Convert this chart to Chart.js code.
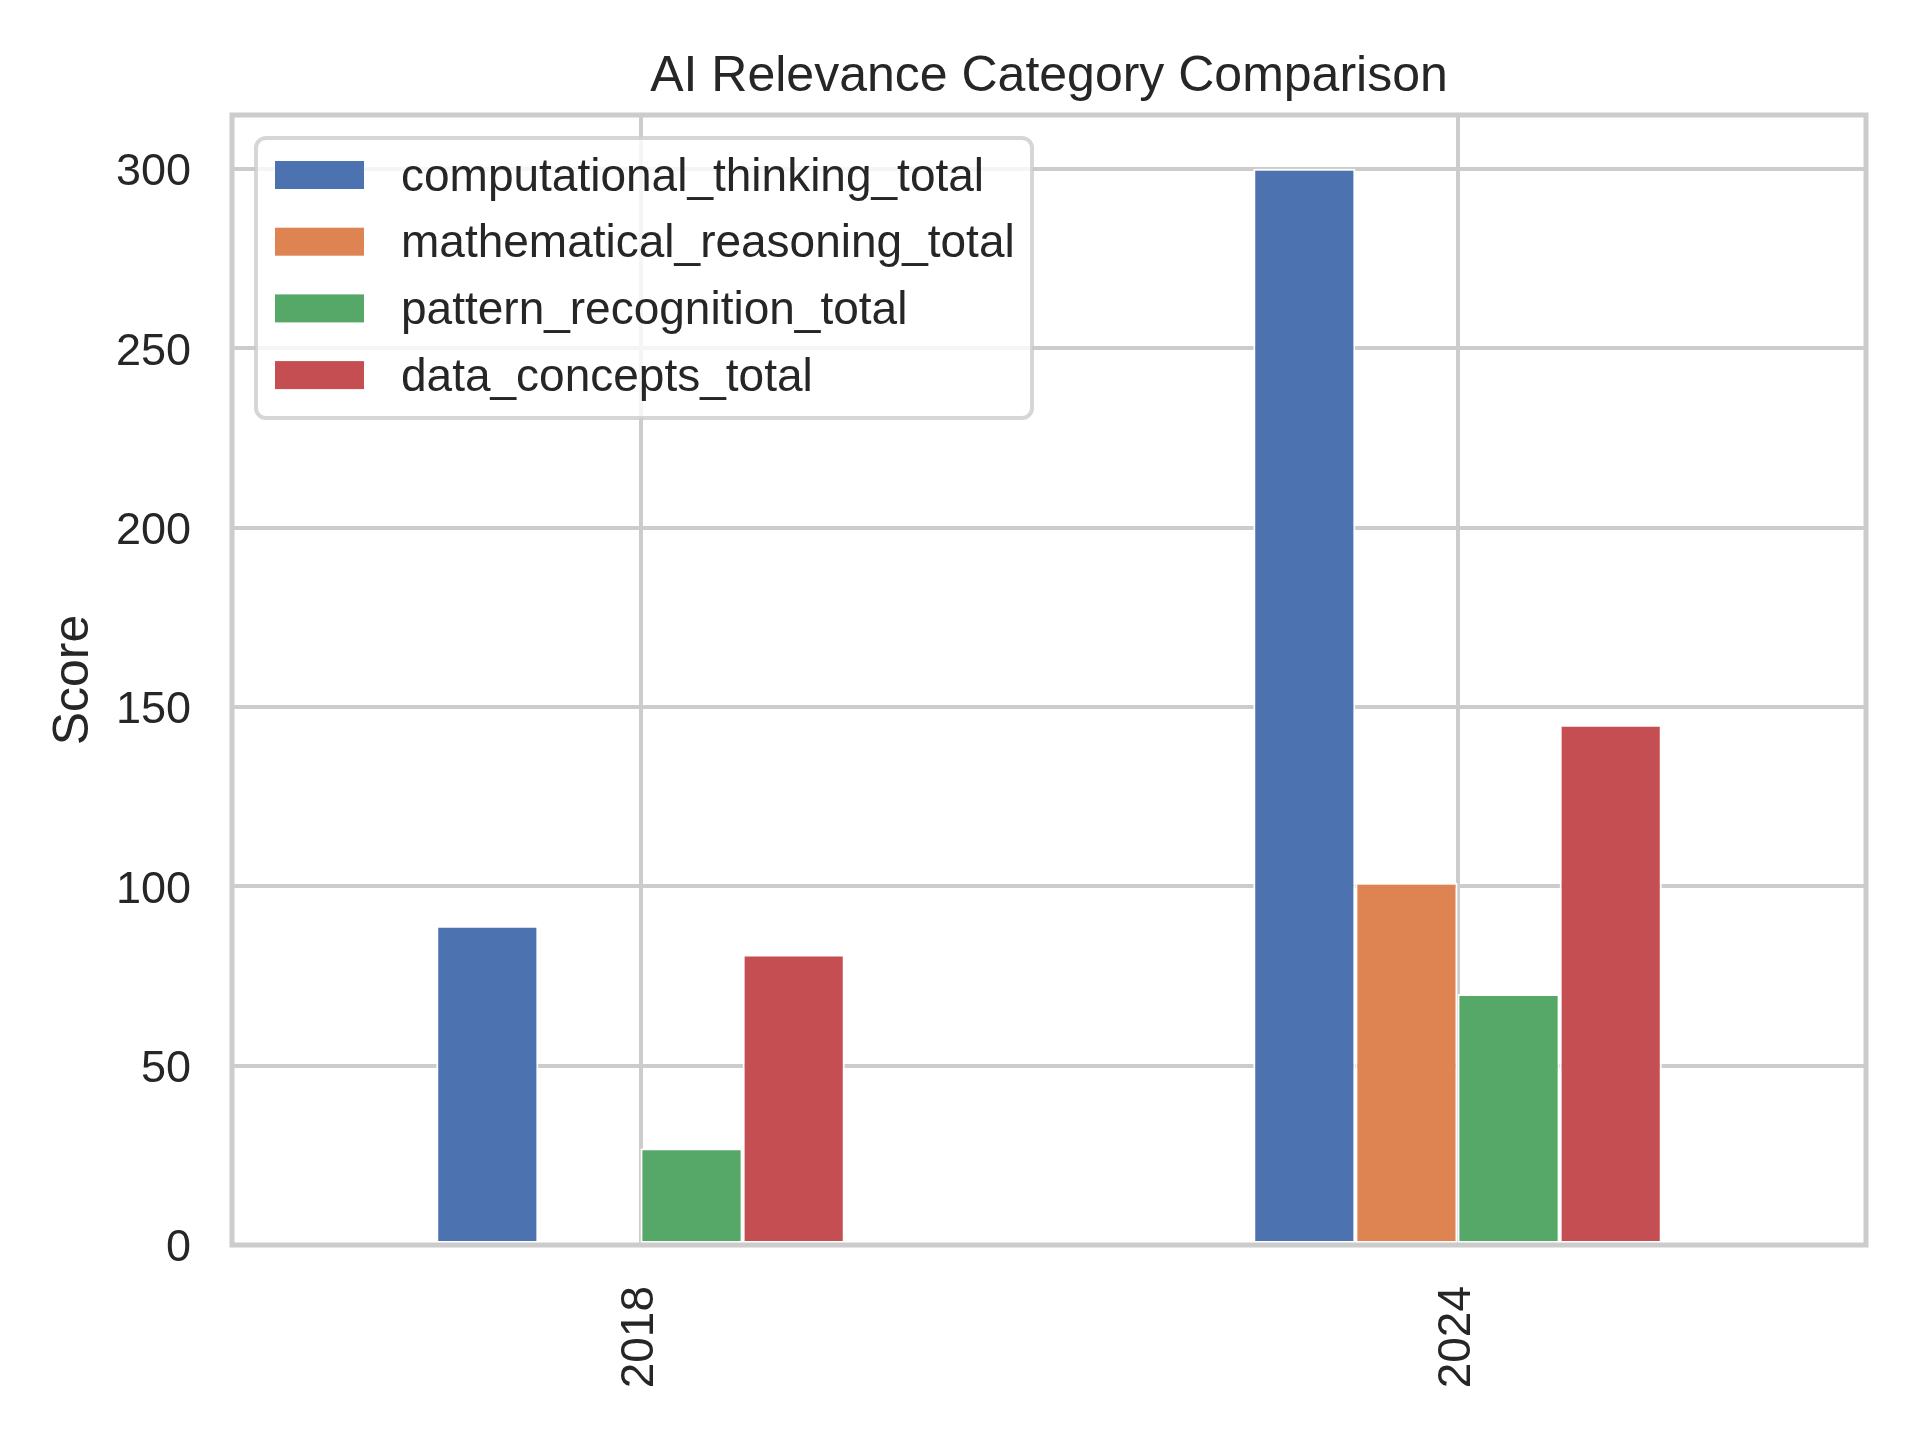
<!DOCTYPE html>
<html>
<head>
<meta charset="utf-8">
<title>AI Relevance Category Comparison</title>
<script src="https://cdn.jsdelivr.net/npm/chart.js@4.4.0/dist/chart.umd.min.js"></script>
<style>
  html, body { margin: 0; padding: 0; background: #ffffff; }
  canvas { display: block; }
</style>
</head>
<body>
<canvas id="aiChart" width="1920" height="1440"></canvas>
<script>

/******************************************************************
DATA
******************************************************************/

var years = ['2018', '2024'];
var seriesNames = [
  'computational_thinking_total',
  'mathematical_reasoning_total',
  'pattern_recognition_total',
  'data_concepts_total'
];
var computationalThinking = [89, 300];
var mathematicalReasoning = [0, 101];
var patternRecognition = [27, 70];
var dataConcepts = [81, 145];
var yTickValues = [0, 50, 100, 150, 200, 250, 300];
var yAxisMax = 315;

/******************************************************************
PLUGINS
******************************************************************/

var FONT = '"Liberation Sans", Arial, sans-serif';
var TEXT = '#262626';
var GRID = '#cccccc';

// matplotlib style frame drawn over the bars
var plotFrame = {
  id: 'plotFrame',
  afterDatasetsDraw: function (chart) {
    var a = chart.chartArea;
    var ctx = chart.ctx;
    ctx.save();
    ctx.strokeStyle = GRID;
    ctx.lineWidth = 5;
    ctx.strokeRect(a.left, a.top, a.right - a.left, a.bottom - a.top);
    ctx.restore();
  }
};

// legend box in the upper left corner of the plot
var legendBox = {
  id: 'legendBox',
  afterDraw: function (chart) {
    var ctx = chart.ctx;
    var x = 256, y = 138, w = 776, h = 280, r = 10;
    ctx.save();
    ctx.beginPath();
    ctx.moveTo(x + r, y);
    ctx.arcTo(x + w, y, x + w, y + h, r);
    ctx.arcTo(x + w, y + h, x, y + h, r);
    ctx.arcTo(x, y + h, x, y, r);
    ctx.arcTo(x, y, x + w, y, r);
    ctx.closePath();
    ctx.fillStyle = 'rgba(255,255,255,0.8)';
    ctx.fill();
    ctx.lineWidth = 4;
    ctx.strokeStyle = 'rgba(204,204,204,0.8)';
    ctx.stroke();

    ctx.font = '46px ' + FONT;
    ctx.textBaseline = 'middle';
    ctx.textAlign = 'left';
    chart.data.datasets.forEach(function (ds, i) {
      var cy = 175 + i * 66.7;
      ctx.fillStyle = ds.backgroundColor;
      ctx.fillRect(275, cy - 14, 89, 28);
      ctx.fillStyle = TEXT;
      ctx.fillText(ds.label, 401, cy + 3);
    });
    ctx.restore();
  }
};

/******************************************************************
CHART
******************************************************************/

function barSet(label, values, color) {
  return {
    label: label,
    data: values,
    backgroundColor: color,
    borderColor: '#ffffff',
    borderWidth: 2,
    borderSkipped: false,
    categoryPercentage: 0.5,
    barPercentage: 1.0
  };
}

var ctx = document.getElementById('aiChart').getContext('2d');
var chart = new Chart(ctx, {
  type: 'bar',
  data: {
    labels: years,
    datasets: [
      barSet(seriesNames[0], computationalThinking, '#4C72B0'),
      barSet(seriesNames[1], mathematicalReasoning, '#DD8452'),
      barSet(seriesNames[2], patternRecognition, '#55A868'),
      barSet(seriesNames[3], dataConcepts, '#C44E52')
    ]
  },
  options: {
    responsive: false,
    devicePixelRatio: 1,
    animation: false,
    layout: { padding: { left: 0, right: 54, top: 0, bottom: 0 } },
    plugins: {
      legend: { display: false },
      tooltip: { enabled: false },
      title: {
        display: true,
        fullSize: false,
        text: 'AI Relevance Category Comparison',
        color: TEXT,
        font: { family: FONT, size: 50, weight: 'normal', lineHeight: 1.2 },
        padding: { top: 47, bottom: 8 }
      }
    },
    scales: {
      x: {
        offset: true,
        grid: { offset: false, color: GRID, lineWidth: 4, drawTicks: false },
        border: { display: false },
        ticks: {
          color: TEXT,
          font: { family: FONT, size: 46 },
          minRotation: 90,
          maxRotation: 90,
          padding: 41
        },
        afterFit: function (scale) { scale.height = 195; }
      },
      y: {
        min: 0,
        max: yAxisMax,
        grid: { color: GRID, lineWidth: 4, drawTicks: false },
        border: { display: false },
        ticks: {
          color: TEXT,
          font: { family: FONT, size: 45 },
          padding: 41,
          labelOffset: 4
        },
        afterBuildTicks: function (scale) {
          scale.ticks = yTickValues.map(function (v) { return { value: v }; });
        },
        title: {
          display: true,
          text: 'Score',
          color: TEXT,
          font: { family: FONT, size: 50, lineHeight: 1.2 },
          padding: { top: 44, bottom: 0 }
        },
        afterFit: function (scale) { scale.width = 232; }
      }
    }
  },
  plugins: [plotFrame, legendBox]
});

</script>
</body>
</html>
